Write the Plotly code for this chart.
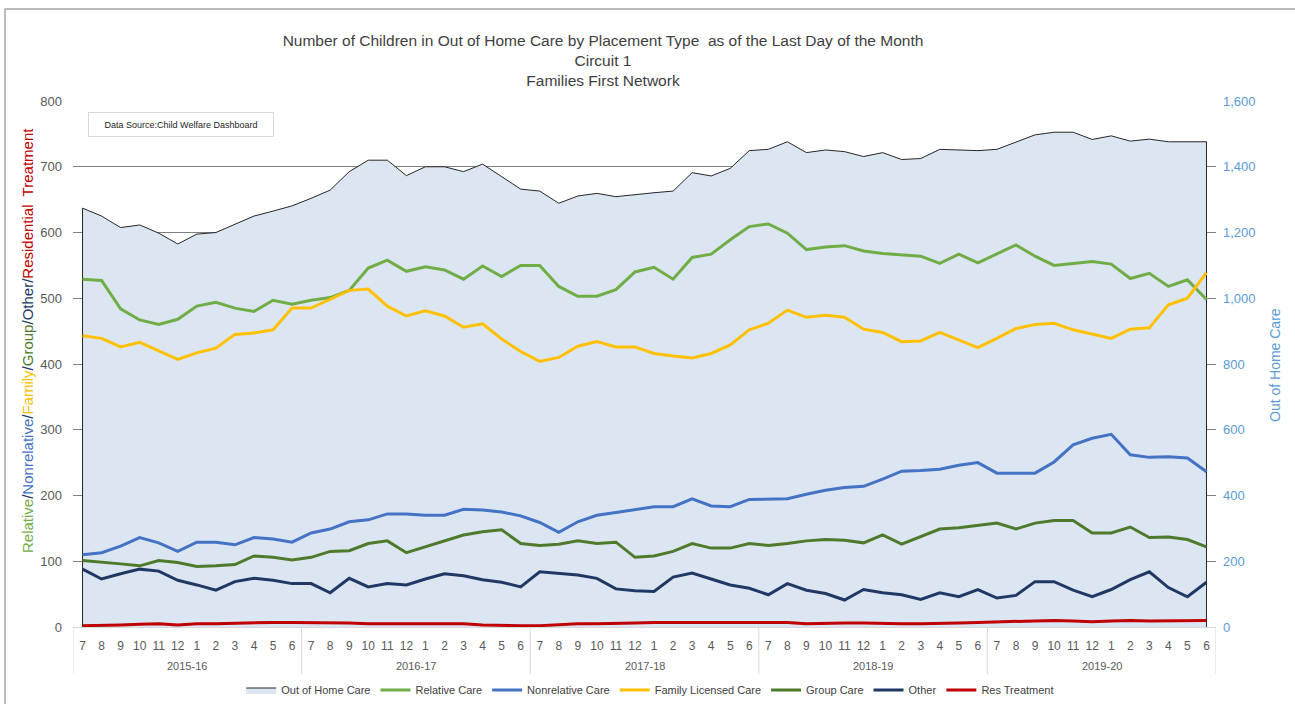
import plotly.graph_objects as go

# Fiscal years and month numbers (July .. June)
fiscal_years = ["2015-16", "2016-17", "2017-18", "2018-19", "2019-20"]
month_labels = ["7", "8", "9", "10", "11", "12", "1", "2", "3", "4", "5", "6"]

out_of_home_care = [1274, 1250, 1215, 1223, 1198, 1165, 1195, 1200, 1225, 1250, 1265, 1281, 1304, 1329,
                    1385, 1420, 1420, 1373, 1400, 1400, 1385, 1408, 1370, 1332, 1326, 1289, 1311, 1319, 1309,
                    1316, 1321, 1326, 1382, 1372, 1395, 1449, 1453, 1476, 1443, 1451, 1446, 1431, 1443, 1422, 1425,
                    1453, 1452, 1449, 1453, 1476, 1497, 1505, 1505, 1483, 1494, 1478, 1484, 1476, 1476, 1476]
relative_care = [529, 527, 484, 467, 460, 468, 488, 494, 485, 480, 497, 491, 497, 501,
                 512, 546, 558, 541, 548, 543, 529, 549, 533, 550, 550, 518, 503, 503, 513,
                 540, 547, 529, 562, 567, 589, 609, 613, 599, 574, 578, 580, 572, 568, 566, 564,
                 553, 567, 554, 567, 581, 564, 550, 553, 556, 552, 530, 538, 518, 528, 498]
nonrelative_care = [110, 113, 123, 136, 128, 115, 129, 129, 125, 136, 134, 129, 143, 149,
                    160, 163, 172, 172, 170, 170, 179, 178, 175, 169, 159, 144, 160, 170, 174,
                    178, 183, 183, 195, 184, 183, 194, 194, 195, 202, 208, 212, 214, 225, 237, 238,
                    240, 246, 250, 234, 234, 234, 251, 277, 287, 293, 262, 258, 259, 257, 236]
family_licensed_care = [443, 439, 426, 433, 420, 407, 417, 424, 445, 447, 452, 485, 485, 499,
                        512, 514, 488, 473, 481, 473, 456, 461, 438, 419, 404, 410, 427, 434, 426,
                        426, 416, 412, 409, 416, 429, 452, 462, 482, 471, 474, 471, 453, 448, 434, 435,
                        448, 436, 425, 439, 454, 460, 462, 452, 445, 439, 453, 455, 490, 500, 539]
group_care = [101, 99, 96, 93, 101, 98, 92, 93, 95, 108, 106, 102, 106, 115,
              116, 127, 131, 113, 122, 130, 140, 145, 148, 127, 124, 126, 131, 127, 129,
              106, 108, 115, 127, 120, 120, 127, 124, 127, 131, 133, 132, 128, 140, 126, 137,
              149, 151, 155, 158, 149, 158, 162, 162, 143, 143, 152, 136, 137, 133, 122]
other = [88, 73, 81, 88, 85, 71, 64, 56, 69, 74, 71, 66, 66, 52,
         74, 61, 66, 64, 73, 81, 78, 72, 68, 61, 84, 81, 79, 74, 58,
         55, 54, 76, 82, 73, 64, 59, 49, 66, 56, 51, 41, 57, 52, 49, 42,
         52, 46, 57, 44, 48, 69, 69, 56, 46, 57, 72, 84, 60, 46, 68]
res_treatment = [2, 2, 3, 4, 5, 3, 5, 5, 6, 7, 7, 7, 7, 6,
                 6, 5, 5, 6, 5, 5, 5, 3, 2, 2, 2, 4, 5, 5, 5,
                 6, 7, 7, 7, 7, 7, 7, 7, 7, 5, 6, 6, 6, 5, 5, 5,
                 5, 6, 7, 8, 8, 9, 10, 9, 8, 9, 10, 9, 9, 9, 10]

NARROW = "Liberation Sans Narrow, Arial Narrow, Liberation Sans, Arial, sans-serif"
REGULAR = "Liberation Sans, Arial, sans-serif"

# month positions along the x axis, one slot per month
n_months = len(month_labels)
tick_text = [m for _ in fiscal_years for m in month_labels]
x_idx = list(range(len(tick_text)))

# closed outline for the total area (drops to zero at both ends)
area_x = [x_idx[0]] + x_idx + [x_idx[-1]]
area_y = [0] + out_of_home_care + [0]

fig = go.Figure()
fig.add_trace(go.Scatter(
    x=area_x, y=area_y, name="Out of Home Care", mode="lines",
    fill="toself", fillcolor="#DCE6F2", line=dict(color="#262626", width=1),
    yaxis="y",
))

series = [
    ("Relative Care", relative_care, "#70AD47"),
    ("Nonrelative Care", nonrelative_care, "#4472C4"),
    ("Family Licensed Care", family_licensed_care, "#FFC000"),
    ("Group Care", group_care, "#4E7A2B"),
    ("Other", other, "#203864"),
    ("Res Treatment", res_treatment, "#C00000"),
]
for name, vals, color in series:
    fig.add_trace(go.Scatter(
        x=x_idx, y=vals, name=name, mode="lines",
        line=dict(color=color, width=3), yaxis="y2",
    ))

L, R, T, B = 73, 1216, 101, 627
W, H = 1295, 704


def px_x(p):
    return (p - L) / (R - L)


def px_y(p):
    return (B - p) / (B - T)


axis_title = (
    '<span style="color:#70AD47">Relative</span>'
    '<span style="color:#203864">/</span>'
    '<span style="color:#4472C4">Nonrelative</span>'
    '<span style="color:#203864">/</span>'
    '<span style="color:#FFC000">Family</span>'
    '<span style="color:#203864">/</span>'
    '<span style="color:#4E7A2B">Group</span>'
    '<span style="color:#203864">/Other/</span>'
    '<span style="color:#C00000">Residential  Treatment</span>'
)

annotations = [
    dict(
        text=axis_title, textangle=-90, showarrow=False,
        xref="paper", yref="paper", x=px_x(27), y=px_y(341),
        xanchor="center", yanchor="middle",
        font=dict(family=REGULAR, size=15),
    ),
    dict(
        text="Out of Home Care", textangle=-90, showarrow=False,
        xref="paper", yref="paper", x=px_x(1275), y=px_y(365),
        xanchor="center", yanchor="middle",
        font=dict(family=REGULAR, size=14, color="#5B9BD5"),
    ),
    dict(
        text="Data Source:Child Welfare Dashboard", showarrow=False,
        xref="paper", yref="paper", x=px_x(181), y=px_y(124),
        xanchor="center", yanchor="middle",
        width=182, height=21, bgcolor="white",
        bordercolor="#D9D9D9", borderwidth=1,
        font=dict(family=NARROW, size=9, color="#262626"),
    ),
]

# fiscal-year group labels and the dividers between groups
shapes = []
for k, fy in enumerate(fiscal_years):
    annotations.append(dict(
        text=fy, showarrow=False, xref="x", yref="paper",
        x=k * n_months + (n_months - 1) / 2, y=px_y(666),
        xanchor="center", yanchor="middle",
        font=dict(family=NARROW, size=11, color="#595959"),
    ))
for k in range(len(fiscal_years) + 1):
    shapes.append(dict(
        type="line", xref="x", yref="paper",
        x0=k * n_months - 0.5, x1=k * n_months - 0.5,
        y0=0, y1=px_y(674),
        line=dict(color="#D9D9D9", width=1),
    ))

shapes.append(dict(
    type="rect", xref="paper", yref="paper",
    x0=px_x(5), x1=px_x(1310), y0=px_y(720), y1=px_y(9),
    line=dict(color="#A6A6A6", width=1.5), fillcolor="rgba(0,0,0,0)",
    layer="below",
))

fig.update_layout(
    width=W, height=H,
    margin=dict(l=L, r=W - R, t=T, b=H - B, pad=0, autoexpand=False),
    paper_bgcolor="white", plot_bgcolor="white",
    title=dict(
        text="Number of Children in Out of Home Care by Placement Type  as of the Last Day of the Month"
             "<br>Circuit 1<br>Families First Network",
        x=603 / W, xanchor="center", xref="container",
        y=1 - 46 / H, yanchor="top", yref="container",
        font=dict(family=NARROW, size=15.5, color="#404040"),
        automargin=False,
    ),
    xaxis=dict(
        range=[-0.5, len(x_idx) - 0.5], automargin=False,
        tickmode="array", tickvals=x_idx, ticktext=tick_text, tickangle=0,
        tickfont=dict(family=NARROW, size=12, color="#595959"),
        showline=True, linecolor="#D9D9D9", linewidth=1,
        showgrid=False, zeroline=False,
        ticks="", ticklabelstandoff=8,
    ),
    yaxis=dict(
        side="right", range=[0, 1600], dtick=200, tickformat=",d",
        showgrid=True, gridcolor="#808080", gridwidth=1, zeroline=False,
        tickfont=dict(family=NARROW, size=13, color="#5B9BD5"),
        ticks="", ticklabelstandoff=6, automargin=False,
    ),
    yaxis2=dict(
        side="left", overlaying="y", range=[0, 800], dtick=100,
        showgrid=False, zeroline=False,
        tickfont=dict(family=NARROW, size=13, color="#595959"),
        ticks="", ticklabelstandoff=10, automargin=False,
    ),
    legend=dict(
        orientation="h", x=0.505, xanchor="center",
        yref="container", y=1 - 690 / H, yanchor="middle",
        font=dict(family=NARROW, size=11, color="#404040"),
        itemwidth=30, tracegroupgap=0,
    ),
    showlegend=True,
    annotations=annotations,
    shapes=shapes,
)

fig.write_html("out.html")
